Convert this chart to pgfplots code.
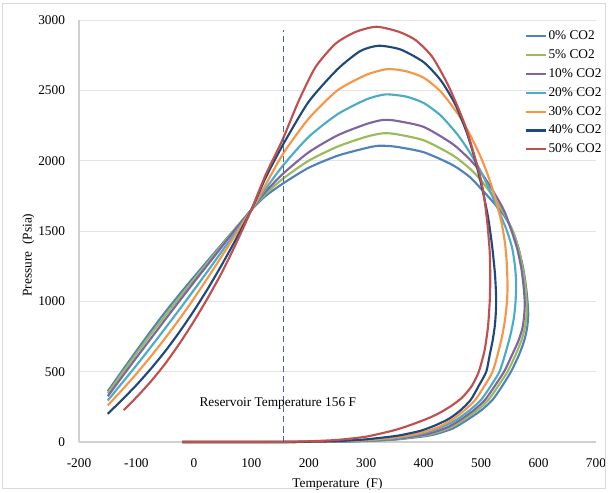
\documentclass[border=0pt]{standalone}
\usepackage{fontspec}
\setmainfont{Liberation Serif}
\usepackage{pgfplots}
\pgfplotsset{compat=1.18}
\definecolor{c0}{HTML}{4F81BD}
\definecolor{c5}{HTML}{9BBB59}
\definecolor{c10}{HTML}{8064A2}
\definecolor{c20}{HTML}{4BACC6}
\definecolor{c30}{HTML}{F79646}
\definecolor{c40}{HTML}{1F497D}
\definecolor{c50}{HTML}{C0504D}
\definecolor{gridgray}{HTML}{E3E3E3}
\definecolor{axisgray}{HTML}{D0D0D0}
\definecolor{framegray}{HTML}{D9D9D9}
\definecolor{resline}{HTML}{46648C}

\begin{document}
\begin{tikzpicture}
\begin{axis}[
    at={(0,0)}, anchor=south west,
    scale only axis, width=387.75pt, height=316.5pt,
    xmin=-200, xmax=700, ymin=0, ymax=3000,
    xtick={-200,-100,...,700}, ytick={0,500,...,3000},
    axis lines=left, axis line style={draw=axisgray, line width=0.8pt, -},
    major tick length=0pt,
    ymajorgrids, grid style={draw=gridgray, line width=0.7pt},
    clip=false,
    font=\fontsize{10}{12}\selectfont,
    tick label style={font=\fontsize{10}{12}\selectfont},
    /pgf/number format/assume math mode=true,
    /pgf/number format/1000 sep={},
    xticklabel style={yshift=-9pt},
    yticklabel style={xshift=-7pt},
    xlabel={Temperature\ \ (F)}, ylabel={Pressure\ \ (Psia)},
    every axis x label/.style={at={([yshift=-31.5pt]axis description cs:0.5,0)}, anchor=center},
    every axis y label/.style={at={([xshift=-38pt]axis description cs:0,0.443)}, rotate=90, anchor=center},
    legend style={at={(axis cs:576,2935)}, anchor=north west, draw=none, fill=none,
        inner sep=0pt, row sep=4pt, font=\fontsize{10}{12}\selectfont, nodes={inner sep=1pt}},
    legend cell align=left,
    legend image code/.code={\draw[#1, line width=1.6pt] (0pt,0pt) -- (15pt,0pt);},
    every axis plot/.append style={line width=1.6pt, smooth, tension=0.4},
]
% 0% CO2
\addplot[c0] coordinates {(-150,360) (-125,505) (-100,648) (-75,788) (-50,923) (-25,1050) (0,1173) (25,1293) (50,1413) (75,1531) (100,1650) (125,1750) (156,1840) (200,1950) (250,2035) (300,2090) (322,2106) (350,2100) (400,2060) (450,1970) (480,1885) (500,1800) (520,1710) (540,1610) (555,1500) (565,1380) (573,1240) (578,1110) (581,990) (582,900) (580,810) (575,720) (566,620) (552,500) (537,400) (520,300) (500,225) (475,155) (450,95) (420,55) (400,40) (350,17) (300,7) (250,3) (200,1) (150,0) (100,0) (50,0) (0,0) (-20,0)};
\addlegendentry{0\% CO2}
% 5% CO2
\addplot[c5] coordinates {(-150,345) (-125,488) (-100,628) (-75,765) (-50,898) (-25,1028) (0,1155) (25,1280) (50,1405) (75,1530) (100,1650) (125,1765) (156,1875) (200,2000) (250,2100) (300,2170) (328,2194) (350,2190) (400,2145) (450,2040) (480,1945) (500,1860) (520,1750) (540,1625) (555,1500) (565,1375) (572,1240) (577,1110) (579,990) (579,900) (576,810) (570,720) (560,620) (546,500) (530,400) (513,300) (493,225) (469,155) (445,100) (415,58) (395,43) (350,19) (300,8) (250,3) (200,1) (150,0) (100,0) (50,0) (0,0) (-20,0)};
\addlegendentry{5\% CO2}
% 10% CO2
\addplot[c10] coordinates {(-150,325) (-125,463) (-100,600) (-75,735) (-50,870) (-25,1003) (0,1135) (25,1265) (50,1395) (75,1525) (100,1650) (125,1780) (156,1910) (200,2060) (250,2180) (300,2260) (328,2289) (350,2285) (400,2240) (450,2120) (480,2010) (500,1915) (520,1790) (540,1645) (553,1500) (563,1370) (570,1235) (574,1105) (576,990) (575,900) (572,810) (565,720) (554,620) (540,500) (524,400) (507,300) (487,225) (463,155) (440,102) (410,60) (390,45) (350,21) (300,9) (250,3) (200,1) (150,0) (100,0) (50,0) (0,0) (-20,0)};
\addlegendentry{10\% CO2}
% 20% CO2
\addplot[c20] coordinates {(-150,295) (-125,420) (-100,545) (-75,675) (-50,808) (-25,943) (0,1080) (25,1220) (50,1363) (75,1505) (100,1650) (125,1800) (156,1970) (200,2170) (250,2330) (300,2435) (334,2471) (370,2455) (400,2410) (430,2320) (460,2180) (480,2060) (500,1920) (515,1790) (530,1650) (545,1500) (554,1380) (559,1250) (561,1130) (560,1000) (557,880) (551,760) (543,640) (532,500) (517,400) (500,300) (480,225) (457,158) (433,108) (405,68) (385,50) (350,26) (300,11) (250,4) (200,1) (150,0) (100,0) (50,0) (0,0) (-20,0)};
\addlegendentry{20\% CO2}
% 30% CO2
\addplot[c30] coordinates {(-150,260) (-125,370) (-100,485) (-75,608) (-50,738) (-25,875) (0,1020) (25,1173) (50,1330) (75,1490) (100,1650) (125,1830) (156,2054) (200,2300) (250,2500) (300,2610) (337,2651) (370,2635) (400,2590) (430,2490) (460,2330) (480,2190) (500,2020) (515,1860) (527,1700) (536,1550) (542,1400) (545,1250) (546,1100) (545,1000) (542,880) (537,760) (530,640) (520,500) (506,400) (490,300) (471,225) (450,160) (428,110) (400,70) (380,52) (350,32) (300,14) (250,5) (200,1) (150,0) (100,0) (50,0) (0,0) (-20,0)};
\addlegendentry{30\% CO2}
% 40% CO2
\addplot[c40] coordinates {(-150,200) (-125,300) (-100,405) (-75,520) (-50,645) (-25,783) (0,933) (25,1095) (50,1270) (75,1455) (100,1650) (125,1880) (156,2120) (200,2420) (250,2650) (290,2780) (322,2817) (360,2790) (400,2700) (430,2570) (455,2400) (475,2200) (490,2000) (502,1800) (512,1600) (519,1400) (524,1200) (526,1050) (526,950) (524,830) (520,720) (515,620) (509,500) (496,400) (482,300) (464,225) (444,165) (420,118) (395,80) (370,57) (350,42) (300,19) (250,6) (200,2) (150,0) (100,0) (50,0) (0,0) (-20,0)};
\addlegendentry{40\% CO2}
% 50% CO2
\addplot[c50] coordinates {(-122,227) (-100,318) (-75,430) (-50,556) (-25,700) (0,858) (25,1030) (50,1215) (75,1425) (100,1650) (125,1900) (154,2146) (183,2430) (212,2667) (247,2833) (282,2916) (318,2952) (357,2916) (386,2857) (415,2738) (444,2525) (473,2241) (497,1910) (505,1750) (511,1550) (515,1350) (516,1150) (515,1000) (512,820) (506,650) (496,500) (484,400) (468,320) (450,262) (430,212) (410,172) (380,125) (350,85) (300,38) (250,15) (200,5) (150,1) (100,0) (50,0) (0,0) (-20,0)};
\addlegendentry{50\% CO2}
% reservoir temperature
\addplot[resline, line width=1pt, dash pattern=on 4.5pt off 3pt, forget plot] coordinates {(156,0) (156,2930)};
\node[font=\fontsize{10}{12}\selectfont, anchor=center] at (axis cs:146,277) {Reservoir Temperature 156 F};
\end{axis}
\draw[framegray, line width=0.75pt] (-57pt,-35.25pt) rectangle (394.5pt,328.5pt);
\pgfresetboundingbox
\path[use as bounding box] (-59.25pt,-38.25pt) rectangle (396.75pt,331.5pt);
\end{tikzpicture}
\end{document}
